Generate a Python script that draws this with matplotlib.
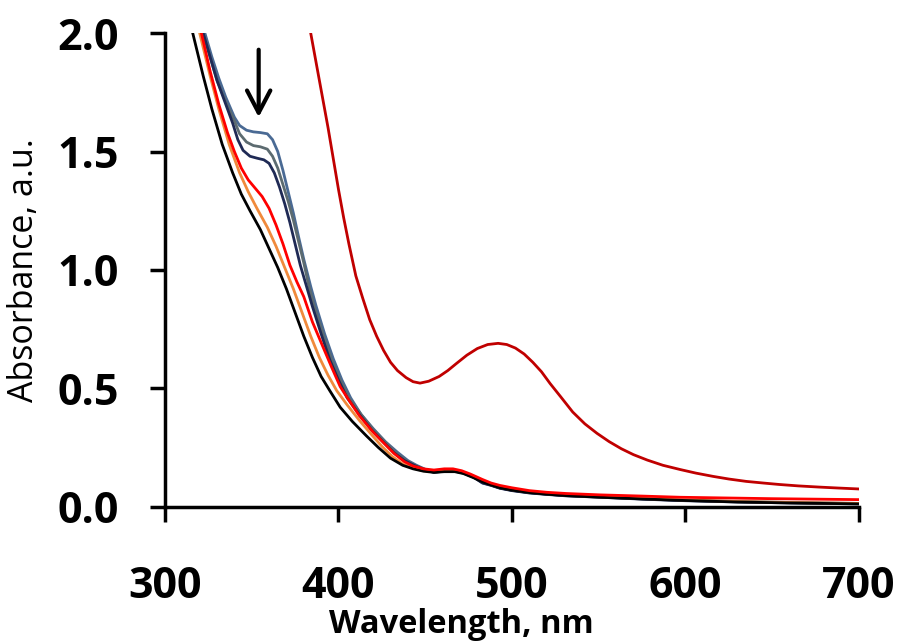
import numpy as np
import matplotlib
matplotlib.use("Agg")
import matplotlib.pyplot as plt

plt.rcParams['font.family'] = ['Open Sans', 'DejaVu Sans']

# spectra (wavelength in nm, absorbance in a.u.)
wl_black = [305, 312, 316, 322, 327, 333, 339, 344, 349, 355, 360, 365, 370, 375, 380, 385, 390, 395,
            401, 408, 416, 423, 430, 437, 443, 449, 455, 461, 467, 472, 478, 483, 488, 493, 500, 510,
            520, 531, 551, 575, 597, 630, 660, 700]
abs_black = [2.6, 2.2, 2.0, 1.82, 1.68, 1.53, 1.41, 1.32, 1.25, 1.17, 1.09, 1.01, 0.92, 0.82, 0.72, 0.63,
             0.55, 0.49, 0.42, 0.36, 0.30, 0.25, 0.205, 0.175, 0.16, 0.15, 0.145, 0.148, 0.148, 0.14,
             0.122, 0.105, 0.092, 0.08, 0.07, 0.06, 0.053, 0.047, 0.04, 0.033, 0.027, 0.02, 0.016, 0.012]

wl_orange = [305, 315, 320, 326, 331, 337, 343, 348, 353, 359, 364, 369, 374, 379, 384, 389, 394, 399,
             405, 412, 419, 425, 431, 437, 443, 449, 455, 461, 467, 472, 478, 483, 488, 493, 500, 510,
             520, 531, 551, 575, 597, 630, 660, 700]
abs_orange = [2.8, 2.2, 2.0, 1.82, 1.68, 1.53, 1.41, 1.33, 1.26, 1.18, 1.10, 1.01, 0.92, 0.82, 0.72, 0.63,
              0.555, 0.49, 0.43, 0.365, 0.305, 0.255, 0.212, 0.18, 0.163, 0.152, 0.148, 0.152, 0.152, 0.143,
              0.125, 0.108, 0.094, 0.082, 0.072, 0.062, 0.055, 0.049, 0.042, 0.035, 0.029, 0.022, 0.018, 0.014]

wl_red = [305, 315, 321, 326, 331, 336, 340, 344, 348, 352, 356, 360, 364, 368, 372, 376, 380, 385, 391,
          396, 401, 406, 412, 420, 426, 432, 438, 443, 449, 455, 461, 466, 471, 476, 483, 488, 493, 500,
          510, 520, 531, 551, 575, 597, 650, 700]
abs_red = [2.9, 2.25, 2.0, 1.84, 1.70, 1.58, 1.50, 1.43, 1.38, 1.345, 1.31, 1.26, 1.19, 1.11, 1.02, 0.95,
           0.887, 0.78, 0.676, 0.59, 0.507, 0.45, 0.385, 0.315, 0.27, 0.225, 0.19, 0.172, 0.16, 0.155, 0.16,
           0.16, 0.152, 0.138, 0.115, 0.10, 0.09, 0.08, 0.068, 0.061, 0.056, 0.05, 0.045, 0.04, 0.034, 0.03]

wl_navy = [305, 315, 322, 326, 330, 335, 339, 342, 345, 349, 353, 357, 360, 363, 366, 369, 372, 375, 378,
           382, 385, 390, 395, 400, 405, 412, 419, 426, 432, 438, 445, 450, 455, 461, 467, 472, 478, 483,
           488, 493, 500, 510, 520, 531, 551, 575, 597, 630, 660, 700]
abs_navy = [2.7, 2.2, 2.0, 1.90, 1.80, 1.70, 1.62, 1.55, 1.505, 1.48, 1.472, 1.465, 1.45, 1.41, 1.35, 1.28,
            1.20, 1.11, 1.02, 0.92, 0.845, 0.73, 0.62, 0.535, 0.46, 0.39, 0.325, 0.272, 0.228, 0.195, 0.17,
            0.155, 0.145, 0.15, 0.15, 0.142, 0.124, 0.10, 0.09, 0.078, 0.068, 0.058, 0.052, 0.046, 0.04, 0.032,
            0.026, 0.02, 0.016, 0.012]

wl_gray = [305, 315, 322, 326, 330, 335, 340, 343, 347, 351, 355, 359, 362, 365, 368, 371, 374, 377, 380,
           383, 386, 391, 396, 401, 406, 413, 420, 427, 433, 439, 445, 450, 455, 461, 467, 472, 478, 483,
           488, 493, 500, 510, 520, 531, 551, 575, 597, 630, 660, 700]
abs_gray = [2.7, 2.2, 2.0, 1.90, 1.80, 1.71, 1.63, 1.575, 1.54, 1.525, 1.52, 1.51, 1.48, 1.43, 1.36, 1.29,
            1.21, 1.12, 1.03, 0.93, 0.845, 0.73, 0.62, 0.535, 0.46, 0.39, 0.326, 0.273, 0.228, 0.195, 0.172,
            0.157, 0.146, 0.151, 0.151, 0.143, 0.125, 0.101, 0.091, 0.079, 0.069, 0.059, 0.053, 0.047, 0.041,
            0.033, 0.027, 0.021, 0.017, 0.013]

wl_steel = [305, 315, 323, 327, 331, 335, 340, 343, 347, 351, 355, 359, 362, 365, 368, 371, 374, 377, 380,
            384, 387, 392, 397, 402, 407, 413, 420, 427, 434, 440, 445, 450, 455, 461, 467, 472, 478, 483,
            488, 493, 500, 510, 520, 531, 551, 575, 597, 630, 660, 700]
abs_steel = [2.7, 2.2, 2.0, 1.90, 1.81, 1.73, 1.645, 1.61, 1.59, 1.583, 1.58, 1.575, 1.55, 1.50, 1.42, 1.33,
             1.24, 1.14, 1.045, 0.93, 0.85, 0.73, 0.625, 0.535, 0.46, 0.39, 0.33, 0.275, 0.23, 0.195, 0.175,
             0.158, 0.147, 0.152, 0.152, 0.144, 0.127, 0.102, 0.092, 0.08, 0.07, 0.06, 0.054, 0.048, 0.042,
             0.034, 0.028, 0.022, 0.018, 0.014]

wl_complex = [375, 380, 384, 387, 390, 394, 397, 400, 403, 406, 410, 414, 418, 422, 426, 430, 434, 439,
              443, 447, 452, 458, 463, 468, 474, 480, 486, 492, 497, 502, 507, 512, 517, 522, 528, 535,
              542, 549, 556, 563, 570, 578, 587, 597, 606, 616, 625, 635, 645, 654, 665, 677, 688, 700]
abs_complex = [2.5, 2.2, 2.0, 1.88, 1.76, 1.60, 1.47, 1.34, 1.22, 1.11, 0.975, 0.88, 0.79, 0.72, 0.66, 0.61,
               0.575, 0.545, 0.528, 0.522, 0.53, 0.55, 0.575, 0.605, 0.64, 0.668, 0.685, 0.69, 0.685, 0.67,
               0.645, 0.61, 0.57, 0.52, 0.465, 0.40, 0.35, 0.31, 0.275, 0.245, 0.22, 0.197, 0.175, 0.157,
               0.142, 0.128, 0.117, 0.107, 0.10, 0.094, 0.088, 0.083, 0.079, 0.075]

fig = plt.figure(figsize=(9.04, 6.42), dpi=100)
ax = fig.add_axes([0.1825, 0.2107, 0.7677, 0.7377])

lw = 2.0
ax.plot(wl_steel, abs_steel, color='#4A6A94', lw=lw)
ax.plot(wl_gray, abs_gray, color='#5C6B70', lw=lw)
ax.plot(wl_navy, abs_navy, color='#1F2A55', lw=lw)
ax.plot(wl_orange, abs_orange, color='#F08A3C', lw=lw)
ax.plot(wl_black, abs_black, color='black', lw=lw)
ax.plot(wl_red, abs_red, color='#FF0000', lw=lw)
ax.plot(wl_complex, abs_complex, color='#C00000', lw=lw)

ax.annotate('', xy=(354, 1.645), xytext=(354, 1.93),
            arrowprops=dict(arrowstyle='->,head_length=0.8,head_width=0.42', lw=3,
                            color='black', mutation_scale=20, shrinkA=0, shrinkB=0))

ax.set_xlim(300, 700)
ax.set_ylim(0, 2.0)
ax.set_xticks([300, 400, 500, 600, 700])
ax.set_yticks([0.0, 0.5, 1.0, 1.5, 2.0])
ax.set_yticklabels(['0.0', '0.5', '1.0', '1.5', '2.0'])

for s in ['top', 'right']:
    ax.spines[s].set_visible(False)
for s in ['left', 'bottom']:
    ax.spines[s].set_linewidth(2.5)

ax.tick_params(axis='both', length=11, width=2.5, labelsize=31)
ax.tick_params(axis='x', pad=31)
ax.tick_params(axis='y', pad=22)
for lab in ax.get_xticklabels() + ax.get_yticklabels():
    lab.set_fontweight('bold')

fig.text(461 / 904, 9 / 642, 'Wavelength, nm', fontsize=23.5, fontweight='bold',
         ha='center', va='baseline')
fig.text(24 / 904, 1 - 270 / 642, 'Absorbance, a.u.', fontsize=24.5, rotation=90,
         ha='center', va='center')

fig.savefig('out.png', dpi=100)
